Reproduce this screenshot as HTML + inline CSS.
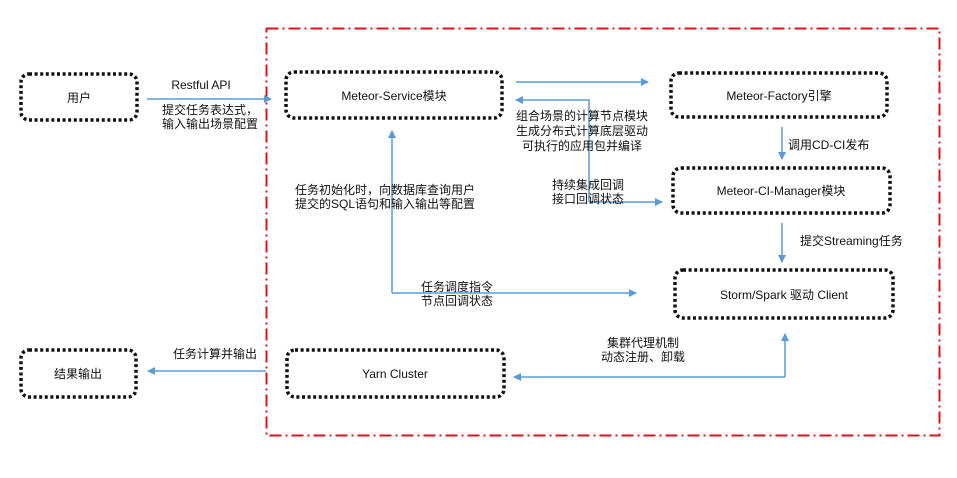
<!DOCTYPE html>
<html><head><meta charset="utf-8"><style>
body{margin:0;background:#fff}
svg text{font-family:"Liberation Sans","Noto Sans CJK SC",sans-serif;font-size:12px;fill:#111}
</style></head><body>
<svg width="957" height="473" viewBox="0 0 957 473" xmlns="http://www.w3.org/2000/svg">
<defs><marker id="a" markerWidth="8" markerHeight="8" refX="7" refY="4" orient="auto" markerUnits="userSpaceOnUse"><path d="M0,0 L8,4 L0,8 z" fill="#5b9bd5"/></marker></defs>
<rect x="266.5" y="28.5" width="673" height="407" fill="none" stroke="#d9161c" stroke-width="2" stroke-dasharray="12,4,2,4"/>
<g fill="none" stroke="#111" stroke-width="3.5" stroke-dasharray="3,2.6">
<rect x="21" y="74" width="116" height="46" rx="8"/>
<rect x="286" y="72" width="216" height="46" rx="8"/>
<rect x="671" y="73" width="216" height="44" rx="8"/>
<rect x="673" y="168" width="217" height="45" rx="8"/>
<rect x="675" y="270" width="218" height="48" rx="8"/>
<rect x="287" y="350" width="217" height="47" rx="8"/>
<rect x="21" y="350" width="115" height="47" rx="8"/>
</g>
<g fill="none" stroke="#5b9bd5" stroke-width="1.5" marker-end="url(#a)">
<path d="M147 99 H271"/>
<path d="M516 82 H648"/>
<path d="M589 202 V100 H516"/>
<path d="M589 202 H662"/>
<path d="M782 127 V159"/>
<path d="M782 223 V262"/>
<path d="M392 293 V131"/>
<path d="M392 293 H636"/>
<path d="M785 377 V334"/>
<path d="M785 377 H514"/>
<path d="M266 371 H148"/>
</g>
<g text-anchor="middle">
<text x="79" y="102">用户</text>
<text x="394" y="100">Meteor-Service模块</text>
<text x="779" y="100">Meteor-Factory引擎</text>
<text x="781" y="195">Meteor-CI-Manager模块</text>
<text x="784" y="299">Storm/Spark 驱动 Client</text>
<text x="395" y="378">Yarn Cluster</text>
<text x="78" y="378">结果输出</text>
<text x="201" y="89">Restful API</text>
<text x="582" y="120">组合场景的计算节点模块</text>
<text x="582" y="135">生成分布式计算底层驱动</text>
<text x="582" y="150">可执行的应用包并编译</text>
<text x="457" y="291">任务调度指令</text>
<text x="457" y="305">节点回调状态</text>
<text x="643" y="347">集群代理机制</text>
<text x="643" y="361">动态注册、卸载</text>
</g>
<text x="162" y="114">提交任务表达式，</text>
<text x="162" y="128">输入输出场景配置</text>
<text x="788" y="149">调用CD-CI发布</text>
<text x="552" y="189">持续集成回调</text>
<text x="552" y="203">接口回调状态</text>
<text x="295" y="194">任务初始化时，向数据库查询用户</text>
<text x="295" y="208">提交的SQL语句和输入输出等配置</text>
<text x="800" y="245">提交Streaming任务</text>
<text x="173" y="358">任务计算并输出</text>
</svg>
</body></html>
